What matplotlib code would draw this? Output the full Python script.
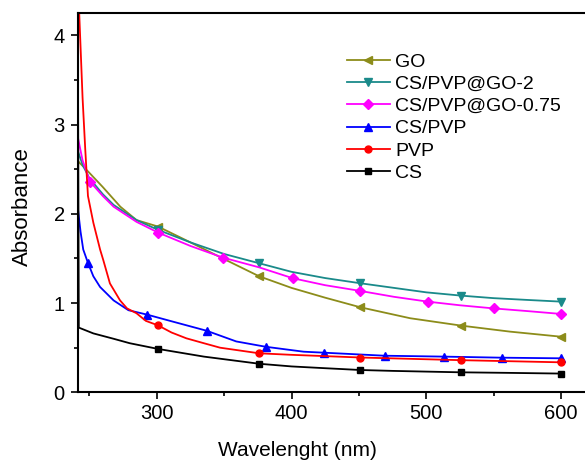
import matplotlib
matplotlib.use('Agg')
import matplotlib.pyplot as plt
from matplotlib.ticker import MultipleLocator

plt.rcParams['font.family'] = ['Liberation Sans', 'DejaVu Sans']
plt.rcParams['font.size'] = 14

# 数据
go_wl = [241.6, 250, 260, 273, 285, 301, 325, 349, 376, 400, 425, 451, 488, 526, 562, 600]
go_a = [2.59, 2.46, 2.30, 2.08, 1.93, 1.857, 1.68, 1.50, 1.30, 1.17, 1.06, 0.953, 0.83, 0.747, 0.68, 0.623]
go_marks = [301, 376, 451, 526, 600]

go2_wl = [241.6, 245, 250, 260, 268, 285, 301, 325, 350, 376, 400, 425, 451, 476, 500, 526, 550, 575, 600]
go2_a = [2.70, 2.55, 2.40, 2.22, 2.10, 1.93, 1.82, 1.68, 1.55, 1.446, 1.35, 1.28, 1.222, 1.17, 1.12, 1.083, 1.055, 1.035, 1.016]
go2_marks = [301, 376, 451, 526, 600]

go075_wl = [241.6, 245, 250.5, 260, 268, 285, 301, 325, 349, 376, 401, 425, 451, 476, 501, 525, 550, 575, 600]
go075_a = [2.85, 2.60, 2.36, 2.20, 2.08, 1.91, 1.79, 1.64, 1.51, 1.40, 1.278, 1.20, 1.136, 1.07, 1.016, 0.975, 0.94, 0.91, 0.878]
go075_marks = [250.5, 301, 349, 401, 451, 501, 550, 600]

cspvp_wl = [241.6, 243.5, 245.5, 249, 253, 258, 268, 279, 293, 310, 337, 359, 381, 409, 424, 469, 513, 556, 600]
cspvp_a = [2.05, 1.80, 1.60, 1.45, 1.30, 1.18, 1.03, 0.92, 0.87, 0.80, 0.69, 0.57, 0.51, 0.455, 0.444, 0.41, 0.40, 0.388, 0.381]
cspvp_marks = [249, 293, 337, 381, 424, 469, 513, 556, 600]

pvp_wl = [241.6, 245, 247, 249, 253, 258, 260.4, 265.3, 272.8, 278, 285, 292, 301, 311, 322, 335, 347, 359, 376, 400, 451, 526, 600]
pvp_a = [4.60, 3.30, 2.72, 2.20, 1.90, 1.60, 1.48, 1.22, 1.03, 0.94, 0.886, 0.80, 0.75, 0.67, 0.605, 0.55, 0.50, 0.474, 0.437, 0.42, 0.39, 0.36, 0.336]
pvp_marks = [301, 376, 451, 526, 600]

cs_wl = [241.6, 242.2, 253, 268, 280, 301, 335, 376, 400, 425, 451, 475, 500, 526, 560, 600]
cs_a = [3.65, 0.725, 0.66, 0.60, 0.55, 0.486, 0.40, 0.32, 0.29, 0.27, 0.25, 0.24, 0.232, 0.224, 0.218, 0.21]
cs_marks = [301, 376, 451, 526, 600]

series = [
    ('GO', go_wl, go_a, go_marks, '#8c8c1a', '<', 6),
    ('CS/PVP@GO-2', go2_wl, go2_a, go2_marks, '#1a8a8a', 'v', 6),
    ('CS/PVP@GO-0.75', go075_wl, go075_a, go075_marks, '#ff00ff', 'D', 5),
    ('CS/PVP', cspvp_wl, cspvp_a, cspvp_marks, '#0000ff', '^', 6),
    ('PVP', pvp_wl, pvp_a, pvp_marks, '#ff0000', 'o', 5),
    ('CS', cs_wl, cs_a, cs_marks, '#000000', 's', 5),
]

fig = plt.figure(figsize=(5.85, 4.61), dpi=100)
ax = fig.add_axes([0.1333, 0.149, 0.8667, 0.8228])

for name, wl, a, marks, c, m, ms in series:
    idx = [i for i, w in enumerate(wl) if w in marks]
    ax.plot(wl, a, color=c, lw=1.3, marker=m, markersize=ms, markevery=idx, label=name)

ax.set_xlim(241.6, 617.7)
ax.set_ylim(0, 4.25)
ax.xaxis.set_major_locator(MultipleLocator(100))
ax.xaxis.set_minor_locator(MultipleLocator(50))
ax.yaxis.set_major_locator(MultipleLocator(1))
ax.yaxis.set_minor_locator(MultipleLocator(0.5))
ax.spines['right'].set_visible(False)
for s in ['left', 'bottom', 'top']:
    ax.spines[s].set_linewidth(1.5)
ax.tick_params(which='major', direction='out', length=5, width=1.2, pad=3.5, labelsize=14.5)
ax.tick_params(which='minor', direction='out', length=3, width=1.2)
ax.tick_params(axis='y', which='major', pad=4.5)

ax.set_xlabel('Wavelenght (nm)', fontsize=15)
ax.set_ylabel('Absorbance', fontsize=16)
ax.xaxis.set_label_coords(0.432, -0.128)
ax.yaxis.set_label_coords(-0.089, 0.49)

ax.legend(loc='upper left', bbox_to_anchor=(0.5927, 0.885), bbox_transform=fig.transFigure,
          frameon=False, borderpad=0, borderaxespad=0, labelspacing=0.24,
          handlelength=2.2, handletextpad=0.3)

fig.savefig('out.png', dpi=100)
